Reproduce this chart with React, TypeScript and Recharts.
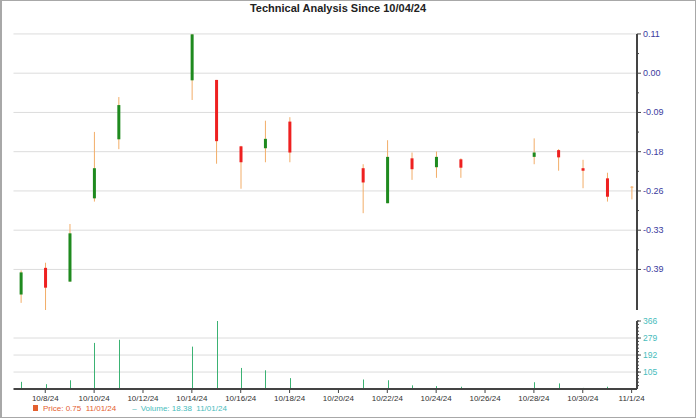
import { Bar, BarChart, CartesianGrid, XAxis, YAxis } from "recharts";

// trading days shown in the chart
const dates = [
  "2024-10-07", "2024-10-08", "2024-10-09", "2024-10-10", "2024-10-11",
  "2024-10-14", "2024-10-15", "2024-10-16", "2024-10-17", "2024-10-18",
  "2024-10-21", "2024-10-22", "2024-10-23", "2024-10-24", "2024-10-25",
  "2024-10-28", "2024-10-29", "2024-10-30", "2024-10-31", "2024-11-01",
];

// change since 10/04/24
const opens = [
  -0.431, -0.391, -0.412, -0.273, -0.155, -0.018, -0.017, -0.17, -0.174, -0.116,
  -0.215, -0.282, -0.195, -0.213, -0.197, -0.192, -0.178, -0.215, -0.235, -0.252,
];
const highs = [
  -0.395, -0.383, -0.319, -0.139, -0.059, 0.105, -0.017, -0.169, -0.114, -0.106,
  -0.207, -0.157, -0.183, -0.181, -0.195, -0.153, -0.176, -0.198, -0.224, -0.25,
];
const lows = [
  -0.443, -0.453, -0.412, -0.279, -0.176, -0.066, -0.206, -0.255, -0.203, -0.203,
  -0.3, -0.282, -0.238, -0.234, -0.234, -0.207, -0.22, -0.254, -0.279, -0.275,
];
const closes = [
  -0.398, -0.421, -0.335, -0.215, -0.078, 0.104, -0.159, -0.203, -0.154, -0.183,
  -0.243, -0.192, -0.217, -0.192, -0.214, -0.183, -0.193, -0.22, -0.27, -0.252,
];
const volumes = [
  55, 43, 63, 254, 270, 235, 366, 126, 114, 74,
  67, 63, 37, 33, 30, 53, 47, 24, 30, 18.38,
];

const tickDates = [
  "2024-10-08", "2024-10-10", "2024-10-12", "2024-10-14", "2024-10-16",
  "2024-10-18", "2024-10-20", "2024-10-22", "2024-10-24", "2024-10-26",
  "2024-10-28", "2024-10-30", "2024-11-01",
];
const tickLabels = [
  "10/8/24", "10/10/24", "10/12/24", "10/14/24", "10/16/24", "10/18/24",
  "10/20/24", "10/22/24", "10/24/24", "10/26/24", "10/28/24", "10/30/24", "11/1/24",
];

// log-scaled price axis: one gridline every 0.1 in log units
const priceTickLogs = [0.1, 0, -0.1, -0.2, -0.3, -0.4, -0.5];
const priceTickLabels = ["0.11", "0.00", "-0.09", "-0.18", "-0.26", "-0.33", "-0.39"];
const volumeTicks = [105, 192, 279, 366];

const DAY = 86400000;
const dayOf = (d: string) => (Date.parse(d) - Date.parse(dates[0])) / DAY;

const rows = dates.map((d, i) => ({
  day: dayOf(d),
  open: opens[i],
  high: highs[i],
  low: lows[i],
  close: closes[i],
  range: [1 + lows[i], 1 + highs[i]],
  volume: volumes[i],
}));

const xTicks = tickDates.map(dayOf);
const xDomain = [-0.3, 25.22];

const priceMajor = priceTickLogs.map((v) => Math.exp(v));
const priceMinor = priceTickLogs.slice(1).map((v) => Math.exp(v + 0.05));
const priceTicks = [...priceMajor, ...priceMinor].sort((a, b) => b - a);

const volStep = (366 - 18.38) / 4;
const volMinor: number[] = [];
for (let v = 18.38 + volStep / 5; v < 366; v += volStep / 5) volMinor.push(v);

const WICK = "#f2ad68";
const UP = "#1f8a1f";
const DOWN = "#ee2020";
const AXIS = "#444";
const PRICE_TEXT = "#3b3b9e";
const VOL_TEXT = "#47bcbc";
const VOL_BAR = "#3bb273";
const FONT = "Arial, 'Liberation Sans', sans-serif";

function Candle(props: any) {
  const { x, y, width, height, payload } = props;
  if (!payload) return null;
  const top = Math.log(1 + payload.high);
  const bottom = Math.log(1 + payload.low);
  const span = top - bottom;
  const toPx = (v: number) =>
    span === 0 ? y : y + ((top - Math.log(1 + v)) / span) * height;
  const cx = x + width / 2;
  const b1 = toPx(Math.max(payload.open, payload.close));
  const b2 = toPx(Math.min(payload.open, payload.close));
  const flat = payload.open === payload.close;
  return (
    <g>
      <line x1={cx} x2={cx} y1={y} y2={y + height} stroke={WICK} strokeWidth={1} />
      {flat ? (
        <line x1={x} x2={x + width} y1={b1} y2={b1} stroke={WICK} strokeWidth={1} />
      ) : (
        <rect
          x={x}
          y={b1}
          width={width}
          height={Math.max(1, b2 - b1)}
          fill={payload.close > payload.open ? UP : DOWN}
        />
      )}
    </g>
  );
}

function VolumeBar(props: any) {
  const { x, y, width, height } = props;
  if (!height || height <= 0) return null;
  const cx = Math.round(x + width / 2) + 0.5;
  return <line x1={cx} x2={cx} y1={y} y2={y + height} stroke={VOL_BAR} strokeWidth={1} />;
}

function PriceTick(props: any) {
  const { x, y, payload } = props;
  const idx = priceMajor.findIndex((v) => Math.abs(v - payload.value) < 1e-9);
  const major = idx >= 0;
  return (
    <g>
      <line x1={x} x2={x + (major ? 4 : 2)} y1={y} y2={y} stroke={AXIS} strokeWidth={1} />
      {major && (
        <text x={x + 6} y={y} dy={3} fontSize={9} fill={PRICE_TEXT} fontFamily={FONT}>
          {priceTickLabels[idx]}
        </text>
      )}
    </g>
  );
}

function VolumeTick(props: any) {
  const { x, y, payload } = props;
  const major = volumeTicks.includes(payload.value);
  return (
    <g>
      <line x1={x} x2={x + (major ? 4 : 2)} y1={y} y2={y} stroke={AXIS} strokeWidth={1} />
      {major && (
        <text x={x + 6} y={y} dy={3} fontSize={8.5} fill={VOL_TEXT} fontFamily={FONT}>
          {payload.value}
        </text>
      )}
    </g>
  );
}

export default function App() {
  return (
    <div
      style={{
        position: "fixed",
        left: 0,
        top: 0,
        width: 696,
        height: 418,
        boxSizing: "border-box",
        border: "1px solid #a8a8a8",
        borderLeftWidth: 2,
        background: "#fff",
        fontFamily: FONT,
        overflow: "hidden",
      }}
    >
      <div
        style={{
          position: "absolute",
          left: 336,
          top: 1,
          transform: "translateX(-50%)",
          fontSize: 11,
          fontWeight: "bold",
          color: "#222",
          whiteSpace: "nowrap",
        }}
      >
        Technical Analysis Since 10/04/24
      </div>

      <div style={{ position: "absolute", left: -2, top: -1 }}>
        <BarChart
          width={696}
          height={312}
          data={rows}
          margin={{ top: 34, right: 0, bottom: 2, left: 13.5 }}
        >
          <CartesianGrid
            vertical={false}
            stroke="#dcdcdc"
            horizontalValues={priceMajor}
          />
          <XAxis dataKey="day" type="number" domain={xDomain} allowDataOverflow hide />
          <YAxis
            orientation="right"
            width={59}
            type="number"
            scale="log"
            domain={[0.547, 1.105]}
            allowDataOverflow
            ticks={priceTicks}
            interval={0}
            axisLine={{ stroke: AXIS, strokeWidth: 2 }}
            tickLine={false}
            tickSize={0}
            tickMargin={0}
            tick={<PriceTick />}
          />
          <Bar dataKey="range" barSize={3} shape={<Candle />} isAnimationActive={false} />
        </BarChart>
      </div>

      <div style={{ position: "absolute", left: -2, top: 299 }}>
        <BarChart
          width={696}
          height={119}
          data={rows}
          margin={{ top: 21, right: 0, bottom: 10, left: 13.5 }}
        >
          <CartesianGrid
            vertical={false}
            stroke="#dcdcdc"
            horizontalValues={[105, 192, 279]}
          />
          <XAxis
            dataKey="day"
            type="number"
            domain={xDomain}
            allowDataOverflow
            ticks={xTicks}
            interval={0}
            height={20}
            tickFormatter={(v: number) => tickLabels[xTicks.indexOf(v)] ?? ""}
            axisLine={{ stroke: AXIS, strokeWidth: 2 }}
            tickLine={{ stroke: AXIS }}
            tickSize={4}
            tickMargin={2}
            tick={{ fontSize: 8, fill: "#333", fontFamily: FONT }}
          />
          <YAxis
            orientation="right"
            width={59}
            type="number"
            domain={[18.38, 366]}
            allowDataOverflow
            ticks={[...volumeTicks, ...volMinor].sort((a, b) => a - b)}
            interval={0}
            axisLine={{ stroke: AXIS, strokeWidth: 2 }}
            tickLine={false}
            tickSize={0}
            tickMargin={0}
            tick={<VolumeTick />}
          />
          <Bar dataKey="volume" barSize={1} shape={<VolumeBar />} isAnimationActive={false} />
        </BarChart>
      </div>

      <div
        style={{
          position: "absolute",
          left: 31,
          top: 403,
          fontSize: 8,
          whiteSpace: "nowrap",
          display: "flex",
          gap: 16,
        }}
      >
        <span style={{ color: "#e4602f" }}>
          <span style={{ display: "inline-block", width: 5, height: 6, background: "#e4602f", marginRight: 5 }} />
          Price: 0.75&nbsp;&nbsp;11/01/24
        </span>
        <span style={{ color: VOL_TEXT }}>
          <span style={{ marginRight: 4 }}>–</span>
          Volume: 18.38&nbsp;&nbsp;11/01/24
        </span>
      </div>
    </div>
  );
}
